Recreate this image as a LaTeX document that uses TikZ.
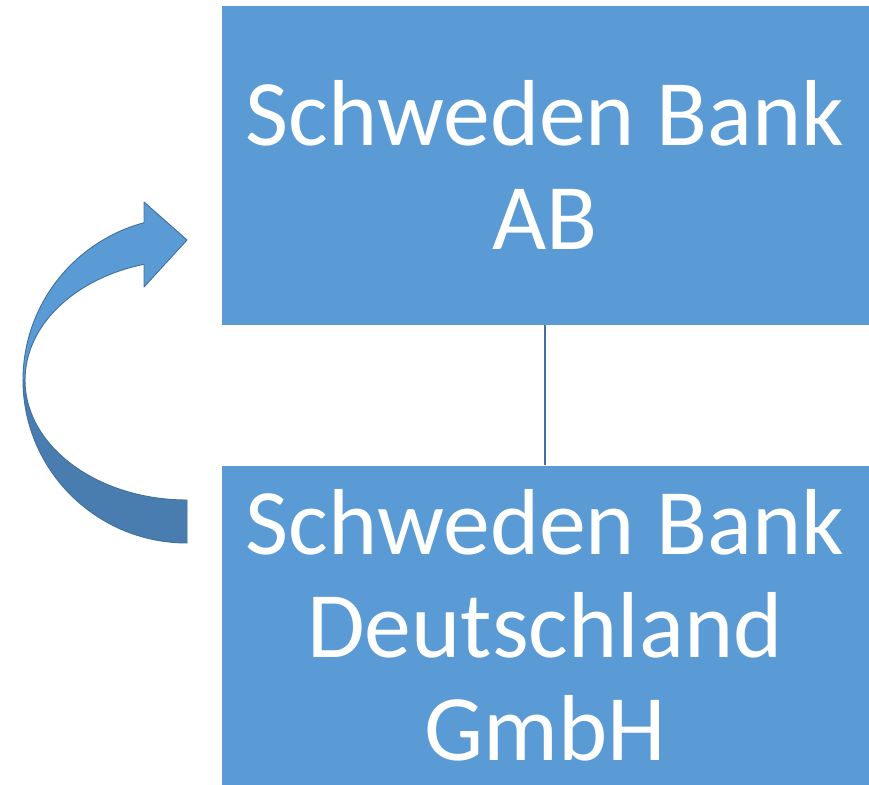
\documentclass[tikz,border=0pt]{standalone}
\usepackage{fontspec}
\setmainfont{Carlito}
\usepackage{tikz}
\usetikzlibrary{positioning}

\definecolor{boxblue}{HTML}{5B9BD5}
\definecolor{darkblue}{HTML}{41719C}
\definecolor{shadeblue}{HTML}{497DB0}

\begin{document}
\begin{tikzpicture}[
x=0.03cm, y=-0.03cm,
bankbox/.style={rectangle, draw=white, fill=boxblue, line width=0.6pt, minimum width=19.44cm, minimum height=9.6cm, inner sep=0pt, outer sep=0pt, text=white, align=center, font=\fontsize{80}{88}\selectfont},
ribbon/.style={draw=darkblue, line width=0.8pt, line join=round},
]
    \useasboundingbox (0,0) rectangle (869,784);

    \node[bankbox]      (parent)     at (545,165)                     {Schweden Bank\\AB};
    \node[bankbox]      (subsidiary) [below=4.2cm of parent]          {Schweden Bank\\Deutschland\\GmbH};

    \draw[darkblue, line width=1.3pt] (parent.south) -- (subsidiary.north);

    % curved arrow, lower (shaded) half first
    \filldraw[ribbon, fill=shadeblue] (187,543) arc (90:180:164 and 163) -- (25,380) arc (180:90:162 and 120) -- cycle;
    \filldraw[ribbon, fill=boxblue] (23,380) arc (180:254.8:164 and 163) -- (144,202) -- (187,240) -- (144,287) -- (144,264.3) arc (254.6:180:162 and 120) -- cycle;
\end{tikzpicture}
\end{document}
